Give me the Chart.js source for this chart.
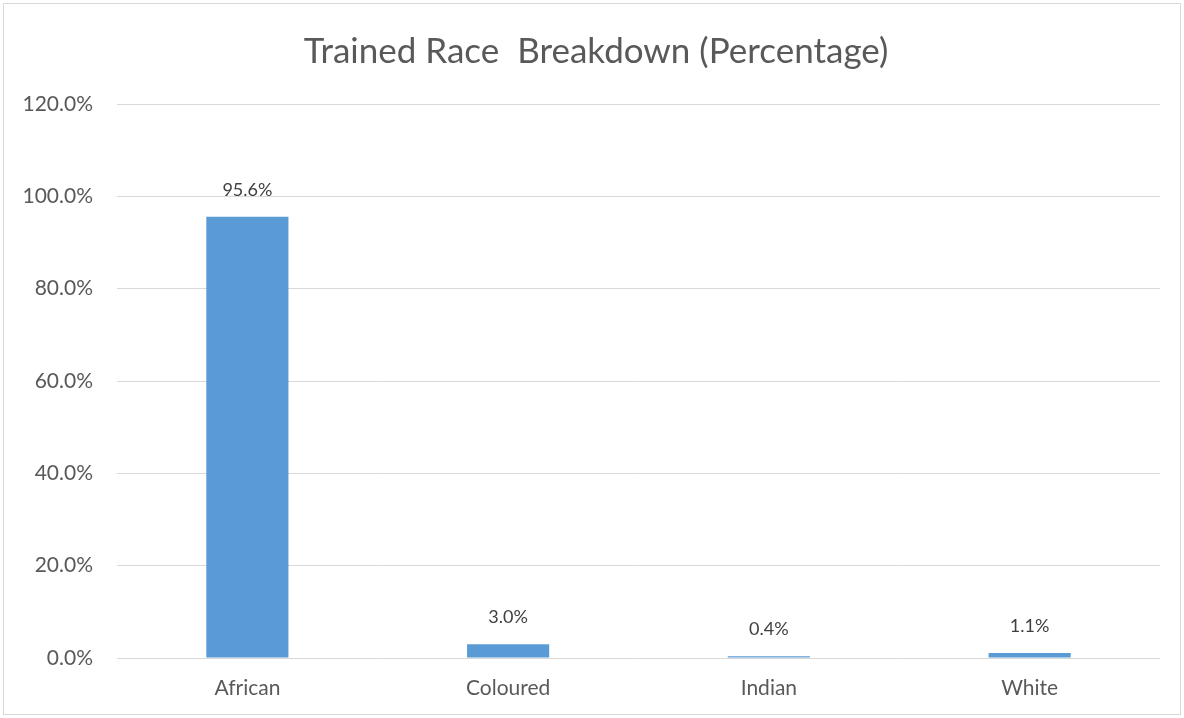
<!DOCTYPE html>
<html>
<head>
<meta charset="utf-8">
<script src="https://cdn.jsdelivr.net/npm/chart.js@4.4.0/dist/chart.umd.min.js"></script>
<style>
  body { margin: 0; background: #fff; }
  #raceChart { display: block; }
</style>
</head>
<body>
<canvas id="raceChart" width="1184" height="718"></canvas>
<script>
// ========================
// DATA
// ========================
const categories = ["African", "Coloured", "Indian", "White"];
const percentages = [95.6, 3.0, 0.4, 1.1];
const yTicks = [0, 20, 40, 60, 80, 100, 120];
const chartTitle = "Trained Race  Breakdown (Percentage)";

const FONT = "Lato, 'Open Sans', sans-serif";

// ========================
// PLUGINS
// ========================
// border round the whole chart + title centred on the full canvas
const frameAndTitle = {
  id: "frameAndTitle",
  afterDraw(chart) {
    const ctx = chart.ctx;
    ctx.save();
    ctx.strokeStyle = "#d9d9d9";
    ctx.lineWidth = 1;
    ctx.strokeRect(3.5, 3.5, chart.width - 7, chart.height - 7);

    ctx.font = "35px " + FONT;
    ctx.fillStyle = "#595959";
    ctx.textAlign = "center";
    ctx.textBaseline = "middle";
    ctx.fillText(chartTitle, chart.width / 2 + 4, 52);
    ctx.restore();
  }
};

const valueLabels = {
  id: "valueLabels",
  afterDatasetsDraw(chart) {
    const ctx = chart.ctx;
    const meta = chart.getDatasetMeta(0);
    ctx.save();
    ctx.font = "18px " + FONT;
    ctx.fillStyle = "#404040";
    ctx.textAlign = "center";
    ctx.textBaseline = "alphabetic";
    meta.data.forEach((bar, i) => {
      ctx.fillText(percentages[i].toFixed(1) + "%", bar.x, bar.y - 21);
    });
    ctx.restore();
  }
};

// ========================
// CHART RENDER
// ========================
const ctx = document.getElementById("raceChart").getContext("2d");

new Chart(ctx, {
  type: "bar",
  data: {
    labels: categories,
    datasets: [
      {
        data: percentages,
        backgroundColor: "#5b9bd5",
        barPercentage: 0.315,
        categoryPercentage: 1
      }
    ]
  },
  options: {
    responsive: false,
    animation: false,
    layout: {
      padding: { top: 104, right: 24, bottom: 0, left: 0 }
    },
    plugins: {
      legend: { display: false },
      tooltip: { enabled: false },
      title: { display: false }
    },
    scales: {
      x: {
        grid: { display: false },
        border: { display: false },
        ticks: {
          color: "#595959",
          font: { family: FONT, size: 21 },
          padding: 10
        },
        afterFit(scale) { scale.height = 60; }
      },
      y: {
        min: 0,
        max: 120,
        afterBuildTicks(scale) {
          scale.ticks = yTicks.map(v => ({ value: v }));
        },
        grid: { color: "#d9d9d9", drawTicks: false },
        border: { display: false },
        ticks: {
          color: "#595959",
          font: { family: FONT, size: 21 },
          padding: 24,
          callback: v => v.toFixed(1) + "%"
        },
        afterFit(scale) { scale.width = 117; }
      }
    }
  },
  plugins: [frameAndTitle, valueLabels]
});
</script>
</body>
</html>
